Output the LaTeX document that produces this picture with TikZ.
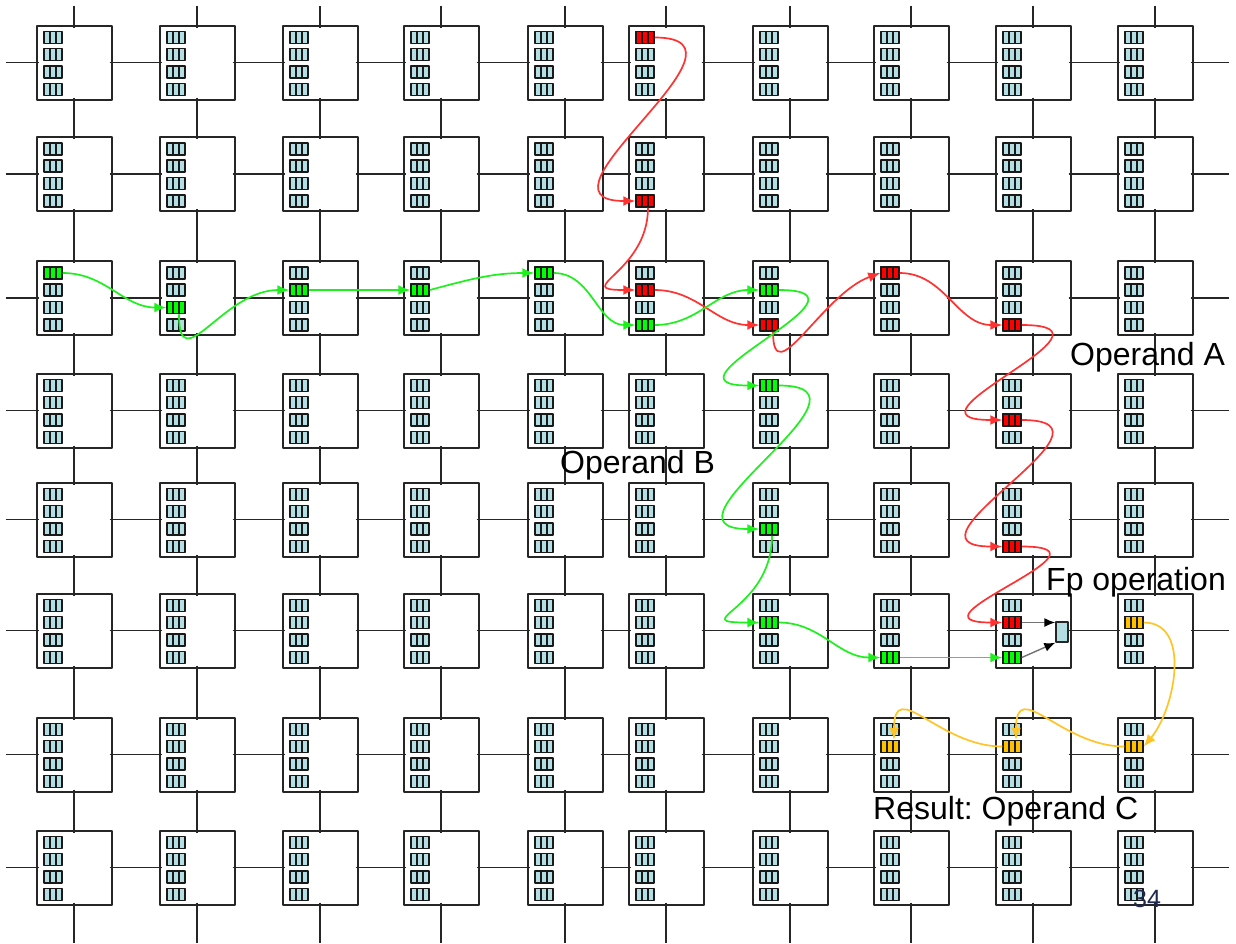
\documentclass[tikz,border=0pt]{standalone}
\usepackage{fontspec}
\setmainfont{Liberation Sans}
\frenchspacing
\usetikzlibrary{arrows.meta}
\definecolor{regblue}{RGB}{178,222,228}
\definecolor{opred}{RGB}{255,0,0}
\definecolor{opgreen}{RGB}{0,255,0}
\definecolor{opgold}{RGB}{255,192,0}
\definecolor{redline}{RGB}{255,50,50}
\definecolor{greenline}{RGB}{30,240,30}
\definecolor{goldline}{RGB}{255,196,40}
\definecolor{pagenum}{RGB}{30,40,80}
\begin{document}
\begin{tikzpicture}[x=1pt,y=1pt,line join=round]
\tikzstyle{pe} = [draw=black!85,line width=2pt,fill=white,minimum width=75pt,minimum height=74pt,inner sep=0pt]
\tikzstyle{reg} = [draw=black!90,line width=1.5pt,fill=regblue,minimum width=18pt,minimum height=12pt,inner sep=0pt,
  path picture={\draw[line width=1.1pt] ([xshift=6pt]path picture bounding box.south west) -- ([xshift=6pt]path picture bounding box.north west)
    ([xshift=12pt]path picture bounding box.south west) -- ([xshift=12pt]path picture bounding box.north west);}]
\tikzstyle{link} = [draw=black!85,line width=1.9pt,shorten <=-3pt,shorten >=-3pt]
\tikzstyle{red path} = [draw=redline,line width=1.7pt,-{Latex[length=12pt,width=10pt]}]
\tikzstyle{green path} = [draw=greenline,line width=1.7pt,-{Latex[length=12pt,width=10pt]}]
\tikzstyle{gold path} = [draw=goldline,line width=1.7pt,-{Latex[length=12pt,width=10pt]}]
\tikzstyle{fp arrow} = [draw=black!55,line width=1.4pt,-{Latex[color=black,length=11pt,width=9pt]}]
\tikzstyle{lbl} = [font=\fontsize{32}{38}\selectfont,inner sep=0pt,anchor=base west]

\useasboundingbox (0,0) rectangle (1236,-943);

% processing elements, each with four registers
\foreach \y [count=\r] in {62.5,174,298,410.5,519.5,630.5,754.5,867.5} {
  \foreach \x [count=\c] in {74,197,320,441,565,666,790,911,1033,1155} {
    \node[pe] (pe-\r-\c) at (\x,-\y) {};
    \foreach \k/\dy in {1/25,2/8,3/-9.5,4/-27}
      \node[reg] (pe-\r-\c-\k) at ([shift={(-21,\dy)}]pe-\r-\c.center) {};
  }
}

% mesh links
\foreach \r in {1,...,8} {
  \coordinate (w-\r) at ([xshift=-27pt]pe-\r-1.west);
  \coordinate (e-\r) at ([xshift=32pt]pe-\r-10.east);
  \draw[link] (w-\r) -- (pe-\r-1.west);
  \foreach \c [evaluate=\c as \n using int(\c+1)] in {1,...,9}
    \draw[link] (pe-\r-\c.east) -- (pe-\r-\n.west);
  \draw[link] (pe-\r-10.east) -- (e-\r);
}
\foreach \c in {1,...,10} {
  \coordinate (n-\c) at ([yshift=16pt]pe-1-\c.north);
  \coordinate (s-\c) at ([yshift=-34pt]pe-8-\c.south);
  \draw[link] (n-\c) -- (pe-1-\c.north);
  \foreach \r [evaluate=\r as \n using int(\r+1)] in {1,...,7}
    \draw[link] (pe-\r-\c.south) -- (pe-\n-\c.north);
  \draw[link] (pe-8-\c.south) -- (s-\c);
}

% coloured registers
\foreach \r/\c/\k in {1/6/1,2/6/4,3/6/2,3/7/4,3/8/1,3/9/4,4/9/3,5/9/4,6/9/2}
  \node[reg,fill=opred] (pe-\r-\c-\k) at (pe-\r-\c-\k) {};
\foreach \r/\c/\k in {3/1/1,3/2/3,3/3/2,3/4/2,3/5/1,3/6/4,3/7/2,4/7/1,5/7/3,6/7/2,6/8/4,6/9/4}
  \node[reg,fill=opgreen] (pe-\r-\c-\k) at (pe-\r-\c-\k) {};
\foreach \r/\c/\k in {6/10/2,7/10/2,7/9/2,7/8/2}
  \node[reg,fill=opgold] (pe-\r-\c-\k) at (pe-\r-\c-\k) {};

\node[draw=black!85,line width=1.4pt,fill=regblue,minimum width=12pt,minimum height=20pt,inner sep=0pt] (fpu) at ([shift={(29,-1.5)}]pe-6-9.center) {};

% operand A
\draw[red path] (pe-1-6-1.east) to[out=0,in=180,looseness=1.8] (pe-2-6-4.west);
\draw[red path] ([xshift=3pt]pe-2-6-4.south) to[out=-90,in=180,looseness=2] (pe-3-6-2.west);
\draw[red path] (pe-3-6-2.east) to[out=0,in=180] (pe-3-7-4.west);
\draw[red path] ([xshift=4pt]pe-3-7-4.south) to[out=-90,in=200,looseness=1.3] (pe-3-8-1.west);
\draw[red path] (pe-3-8-1.east) to[out=0,in=180] (pe-3-9-4.west);
\draw[red path] (pe-3-9-4.east) to[out=0,in=180,distance=115pt] (pe-4-9-3.west);
\draw[red path] (pe-4-9-3.east) to[out=0,in=180,distance=115pt] (pe-5-9-4.west);
\draw[red path] (pe-5-9-4.east) to[out=0,in=180,distance=105pt] (pe-6-9-2.west);

% operand B
\draw[green path] (pe-3-1-1.east) to[out=0,in=180] (pe-3-2-3.west);
\draw[green path] ([xshift=3pt]pe-3-2-3.south) to[out=-90,in=180,looseness=1.5] (pe-3-3-2.west);
\draw[green path] (pe-3-3-2.east) -- (pe-3-4-2.west);
\draw[green path] (pe-3-4-2.east) to[out=15,in=180] (pe-3-5-1.west);
\draw[green path] (pe-3-5-1.east) to[out=0,in=180] (pe-3-6-4.west);
\draw[green path] (pe-3-6-4.east) to[out=0,in=180] (pe-3-7-2.west);
\draw[green path] (pe-3-7-2.east) to[out=0,in=180,distance=110pt] (pe-4-7-1.west);
\draw[green path] (pe-4-7-1.east) to[out=0,in=180,distance=115pt] (pe-5-7-3.west);
\draw[green path] ([xshift=3pt]pe-5-7-3.south) to[out=-90,in=180,distance=75pt] (pe-6-7-2.west);
\draw[green path] (pe-6-7-2.east) to[out=0,in=180] (pe-6-8-4.west);
\draw[green path] (pe-6-8-4.east) -- (pe-6-9-4.west);

% fp unit inputs
\draw[fp arrow] (pe-6-9-2.east) -- (pe-6-9-2.east -| fpu.west);
\draw[fp arrow] (pe-6-9-4.east) -- (fpu.south west);

% result
\draw[gold path] (pe-6-10-2.east) to[out=0,in=50] (pe-7-10-2.east);
\draw[gold path] (pe-7-10-2.west) to[out=180,in=90,looseness=1.5] ([xshift=4pt]pe-7-9-2.north);
\draw[gold path] (pe-7-9-2.west) to[out=180,in=90,looseness=1.5] ([xshift=4pt]pe-7-8-2.north);

\node[lbl] (opa) at (1070,-365) {Operand A};
\node[lbl] (opb) at (560,-473) {Operand B};
\node[lbl] (fpop) at (1046,-590) {Fp operation};
\node[lbl] (opc) at (873,-819) {Result: Operand C};
\node[lbl,font=\fontsize{25}{30}\selectfont,text=pagenum] (pgno) at (1133,-907) {34};
\end{tikzpicture}
\end{document}
